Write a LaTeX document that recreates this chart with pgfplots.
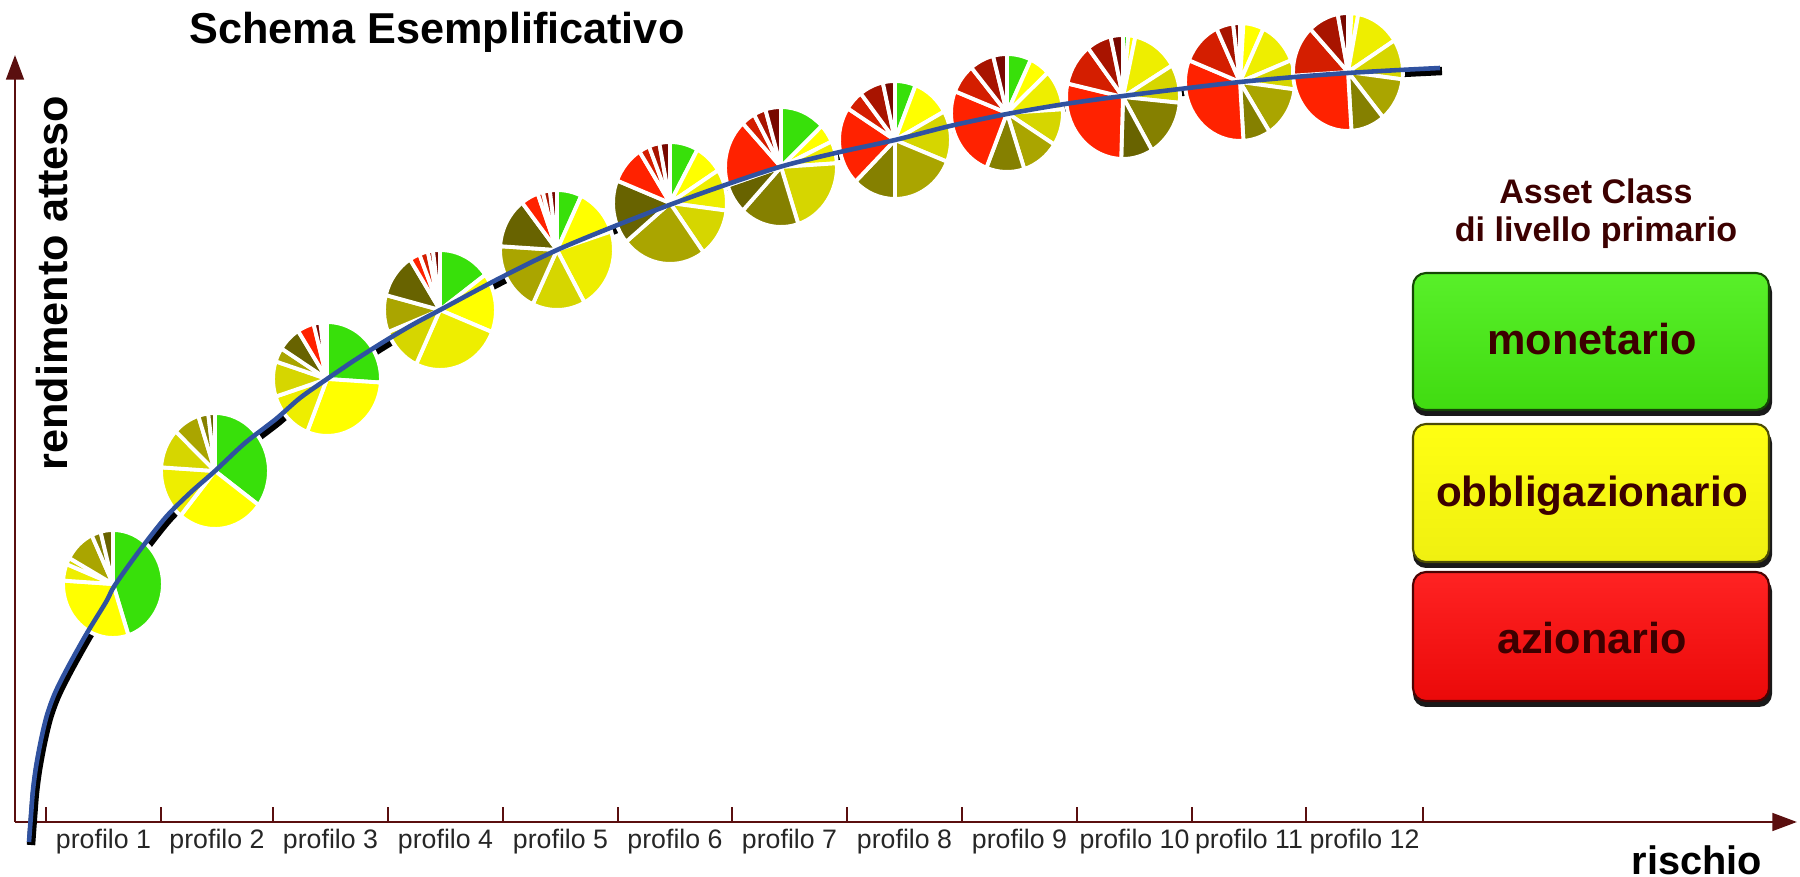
\documentclass[border=0pt]{standalone}
\usepackage{pgfplots}
\pgfplotsset{compat=1.18}
\usepackage{pgfplotstable}
\usepackage{fontspec}
\setmainfont{Liberation Sans}
\usetikzlibrary{arrows.meta}
\definecolor{axisc}{HTML}{5A0F0F}
\definecolor{pG}{HTML}{38E00A}
\definecolor{pYa}{HTML}{FFFF00}
\definecolor{pYb}{HTML}{EEEE00}
\definecolor{pYc}{HTML}{D6D600}
\definecolor{pOa}{HTML}{AAA500}
\definecolor{pOb}{HTML}{858000}
\definecolor{pOc}{HTML}{686300}
\definecolor{pRa}{HTML}{FF2200}
\definecolor{pRb}{HTML}{D41E00}
\definecolor{pRc}{HTML}{A81400}
\definecolor{pRd}{HTML}{780800}
\definecolor{curveblue}{HTML}{3052A0}
\definecolor{legtext}{HTML}{3C0000}
\definecolor{boxgreen}{HTML}{46EE12}
\definecolor{boxyellow}{HTML}{FFFF12}
\definecolor{boxred}{HTML}{FF0A0A}

% pie compositions (percent, clockwise from 12 o'clock)
\pgfplotstableread{
x y rx ry g ya yb yc oa ob oc ra rb rc rd
113 293 50 54 45 31 5 2 10 3 4 0 0 0 0
215 406 54 58 35 26 15 11 8 3 2 0 0 0 0
327 498 54 57 26 30 14 10 4 0 7 5 0 0 2
440 567 56 60 15 16 26 12 10 0 12 3 2.5 1.5 2
557 627 57 60 7 13 22 15 19 0 13.5 5 1.5 2 2
670 674 57 61 8 8 11 13 24 0 17 10 3 3 3
781 710 56 60 13 5 6 21 0 17 8 18 4 3.5 4.5
895 737 56 59 6 11 0 14 19 12.5 0 21.5 5.5 7 3.5
1007 764 56 59 7 6 11 10 11 11 0 25 8 7 4
1123 780 57 62 1.5 2 13 10 0 15 9 28 11 7 3.5
1240 795 55 59 1 6 12 8 14 8 0 32 12 5 2
1348 805 55 59 1 2 13 11 12 10 0 25 14 9 3
}\pies

% efficient frontier
\pgfplotstableread{
x y
29 35
31 62
33 87
36 110
41 137
47 162
55 184
68 210
87 244
106 275
115 292
140 327
166 360
190 384
215 406
245 434
276 458
300 479
327 498
355 517
385 536
412 552
440 567
500 599
557 627
615 651
672 673
728 693
783 711
840 725
895 737
950 751
1007 763
1065 773
1123 781
1180 788
1240 795
1295 800
1348 804
1400 807
1440 809
}\curve

\newcommand\pslice[2]{%
  \pgfmathsetmacro\pa{90-3.6*\pacc}%
  \pgfmathsetmacro\pacc{\pacc+#1}%
  \pgfmathsetmacro\pb{90-3.6*\pacc}%
  \ifdim #1pt>0.05pt
    \fill[#2, draw=white, line width=1.1pt, line join=round] (0pt,0pt) -- (\pa:\RX cm and \RY cm) arc[start angle=\pa, end angle=\pb, x radius=\RX cm, y radius=\RY cm] -- cycle;
  \fi}
\newcommand\drawpie{%
  \pgfmathsetmacro\RX{\prx*0.01}\pgfmathsetmacro\RY{\pry*0.01}%
  \def\pacc{0}%
  \pslice{\vg}{pG}\pslice{\vya}{pYa}\pslice{\vyb}{pYb}\pslice{\vyc}{pYc}%
  \pslice{\voa}{pOa}\pslice{\vob}{pOb}\pslice{\voc}{pOc}%
  \pslice{\vra}{pRa}\pslice{\vrb}{pRb}\pslice{\vrc}{pRc}\pslice{\vrd}{pRd}}

\pgfplotsset{frame/.style={
  at={(0.15cm,0.55cm)}, anchor=south west,
  scale only axis, width=17.82cm, height=7.67cm,
  xmin=15, xmax=1797, ymin=55, ymax=822, clip=false}}

\begin{document}
\begin{tikzpicture}
\useasboundingbox (0,0) rectangle (18,8.77);
\begin{axis}[
  frame,
  axis lines=left,
  axis line style={draw=axisc, line width=0.8pt, -{Triangle[length=7pt,width=5pt]}},
  ytick=\empty,
  xtick={103.5,217,330.5,445.5,560.5,675,789.5,904.5,1019.5,1134.5,1249,1364.5},
  xticklabels={profilo 1,profilo 2,profilo 3,profilo 4,profilo 5,profilo 6,profilo 7,profilo 8,profilo 9,profilo 10,profilo 11,profilo 12},
  major tick length=0pt,
  extra x ticks={46,161,273,388,503,618,732,847,962,1077,1192,1306,1423},
  extra x tick labels={},
  extra x tick style={major tick length=0.15cm, tick align=inside, tick style={draw=axisc, line width=0.8pt}},
  xticklabel style={font=\fontsize{7.6}{9}\selectfont, text=black!85, yshift=1.5pt},
]
% shadow of the curve
\addplot[black, line width=2.4pt, smooth, no markers, x filter/.expression={x+2}, y filter/.expression={y-3}] table[x=x,y=y]{\curve};
% pies
\addplot[scatter, only marks, mark=*, mark size=0pt,
  visualization depends on={\thisrow{rx}\as\prx},
  visualization depends on={\thisrow{ry}\as\pry},
  visualization depends on={\thisrow{g}\as\vg},
  visualization depends on={\thisrow{ya}\as\vya},
  visualization depends on={\thisrow{yb}\as\vyb},
  visualization depends on={\thisrow{yc}\as\vyc},
  visualization depends on={\thisrow{oa}\as\voa},
  visualization depends on={\thisrow{ob}\as\vob},
  visualization depends on={\thisrow{oc}\as\voc},
  visualization depends on={\thisrow{ra}\as\vra},
  visualization depends on={\thisrow{rb}\as\vrb},
  visualization depends on={\thisrow{rc}\as\vrc},
  visualization depends on={\thisrow{rd}\as\vrd},
  scatter/@pre marker code/.code={\drawpie},
  scatter/@post marker code/.code={}]
  table[x=x,y=y]{\pies};

% titles and labels
\node[anchor=base, font=\bfseries\fontsize{12.3}{14}\selectfont] at (axis cs:437,833) {Schema Esemplificativo};
\node[rotate=90, font=\bfseries\fontsize{12.3}{14}\selectfont] at (axis cs:52,594) {rendimento atteso};
\node[anchor=base, font=\bfseries\fontsize{11.3}{13}\selectfont] at (axis cs:1697,3) {rischio};

% legend
\node[anchor=base, font=\bfseries\fontsize{9.7}{11}\selectfont, text=legtext] at (axis cs:1596,673) {Asset Class};
\node[anchor=base, font=\bfseries\fontsize{9.7}{11}\selectfont, text=legtext] at (axis cs:1596,635) {di livello primario};

\fill[black!90, rounded corners=0.13cm] (axis cs:1413,461) rectangle (axis cs:1772,598);
\shade[rounded corners=0.13cm, top color=boxgreen!90!white, bottom color=boxgreen!92!black, draw=black!70!boxgreen, line width=0.6pt] (axis cs:1413,467) rectangle (axis cs:1769,604);
\node[anchor=mid, font=\bfseries\fontsize{12.3}{14}\selectfont, text=legtext] at (axis cs:1592,532) {monetario};

\fill[black!90, rounded corners=0.13cm] (axis cs:1413,309) rectangle (axis cs:1772,447);
\shade[rounded corners=0.13cm, top color=boxyellow, bottom color=boxyellow!94!black, draw=black!70!boxyellow, line width=0.6pt] (axis cs:1413,315) rectangle (axis cs:1769,453);
\node[anchor=mid, font=\bfseries\fontsize{12}{14}\selectfont, text=legtext] at (axis cs:1592,380) {obbligazionario};

\fill[black!90, rounded corners=0.13cm] (axis cs:1413,170) rectangle (axis cs:1772,299);
\shade[rounded corners=0.13cm, top color=boxred!90!white, bottom color=boxred!92!black, draw=black!70!boxred, line width=0.6pt] (axis cs:1413,176) rectangle (axis cs:1769,305);
\node[anchor=mid, font=\bfseries\fontsize{12.3}{14}\selectfont, text=legtext] at (axis cs:1592,233) {azionario};
\end{axis}
% second, transparent axis with the same frame: the frontier line on top of the pies
\begin{axis}[frame, hide axis]
\addplot[curveblue, line width=1.3pt, smooth, no markers] table[x=x,y=y]{\curve};
\end{axis}
\end{tikzpicture}
\end{document}
